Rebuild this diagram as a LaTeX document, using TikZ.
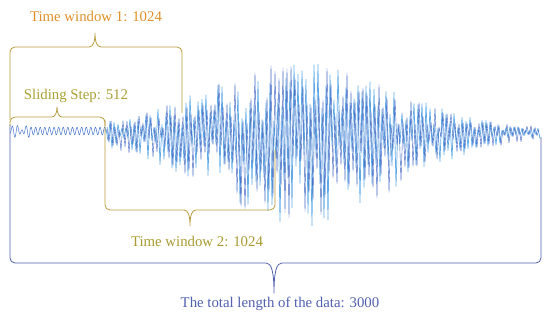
\documentclass[tikz,border=0pt]{standalone}
\usepackage{fontspec}
\setmainfont{Liberation Serif}
\definecolor{twone}{HTML}{E0902A}
\definecolor{braceone}{HTML}{B89B3C}
\definecolor{slidetxt}{HTML}{A8A032}
\definecolor{twotxt}{HTML}{A89A30}
\definecolor{totalc}{HTML}{5060B0}
\definecolor{siglight}{HTML}{5FAAE6}
\definecolor{sigdark}{HTML}{3A5FBE}
\begin{document}
\begin{tikzpicture}[x=1pt,y=-1pt,
  lbl/.style={font=\fontsize{14.8}{17}\selectfont, inner sep=0pt, anchor=center},
  brc/.style={line width=0.8pt, line join=round},
  declare function={
    env(\t)=4+66*exp(-((\t-300)/130)^2);
    osc(\t,\p)=sin(360*(\t/\p-floor(\t/\p)));
    spk(\t)=osc(\t,4)*(1+0.35*(osc(\t,4)>0));}]
\useasboundingbox (0,0) rectangle (550,321);

% signal: quiet start
\draw[sigdark!70!siglight, line width=0.5pt] plot[domain=10:106, samples=240, smooth]
  (\x, {131 + 3.8*osc(\x,4.6) + (\x<30)*2.5*osc(\x+1,7)});
% signal: active part
\pgfmathsetseed{7}
\draw[siglight, line width=0.7pt, line join=round] plot[domain=106:540, samples=218]
  (\x, {132 + env(\x)*spk(\x+1)*(0.15+0.85*rnd)});
\pgfmathsetseed{23}
\draw[sigdark, line width=0.4pt, line join=round] plot[domain=107:539, samples=217]
  (\x, {132 + env(\x)*spk(\x)*(0.15+0.85*rnd)});

% labels
\node[lbl, text=twone] (tw1) at (96,16) {Time window 1: 1024};
\node[lbl, text=slidetxt] (ss) at (76,96) {Sliding Step: 512};
\node[lbl, text=twotxt] (tw2) at (197,241) {Time window 2: 1024};
\node[lbl, text=totalc] (tot) at (280,304) {The total length of the data: 3000};

% brace: time window 1 (tip up)
\draw[brc, braceone] (10,120) -- (10,52) arc[start angle=180,end angle=270,radius=5]
  -- (89,47) .. controls (93,47) and (95,42) .. (95,33)
  .. controls (95,42) and (97,47) .. (101,47) -- (177,47)
  arc[start angle=270,end angle=360,radius=5] -- (182,113);
% brace: sliding step (tip up)
\draw[brc, braceone] (10,126) -- (10,122) arc[start angle=180,end angle=270,radius=5]
  -- (52,117) .. controls (55,117) and (57,113) .. (57,107)
  .. controls (57,113) and (59,117) .. (62,117) -- (100,117)
  arc[start angle=270,end angle=360,radius=5] -- (105,126);
% brace: time window 2 (tip down)
\draw[brc, braceone] (105,120) -- (105,205) arc[start angle=180,end angle=90,radius=5]
  -- (184,210) .. controls (188,210) and (190,215) .. (190,226)
  .. controls (190,215) and (192,210) .. (196,210) -- (270,210)
  arc[start angle=90,end angle=0,radius=5] -- (275,150);
% brace: total (tip down)
\draw[brc, totalc] (10,125) -- (10,258) arc[start angle=180,end angle=90,radius=5]
  -- (266,263) .. controls (271,263) and (274,270) .. (274,293)
  .. controls (274,270) and (277,263) .. (282,263) -- (536,263)
  arc[start angle=90,end angle=0,radius=5] -- (541,137);
\end{tikzpicture}
\end{document}
